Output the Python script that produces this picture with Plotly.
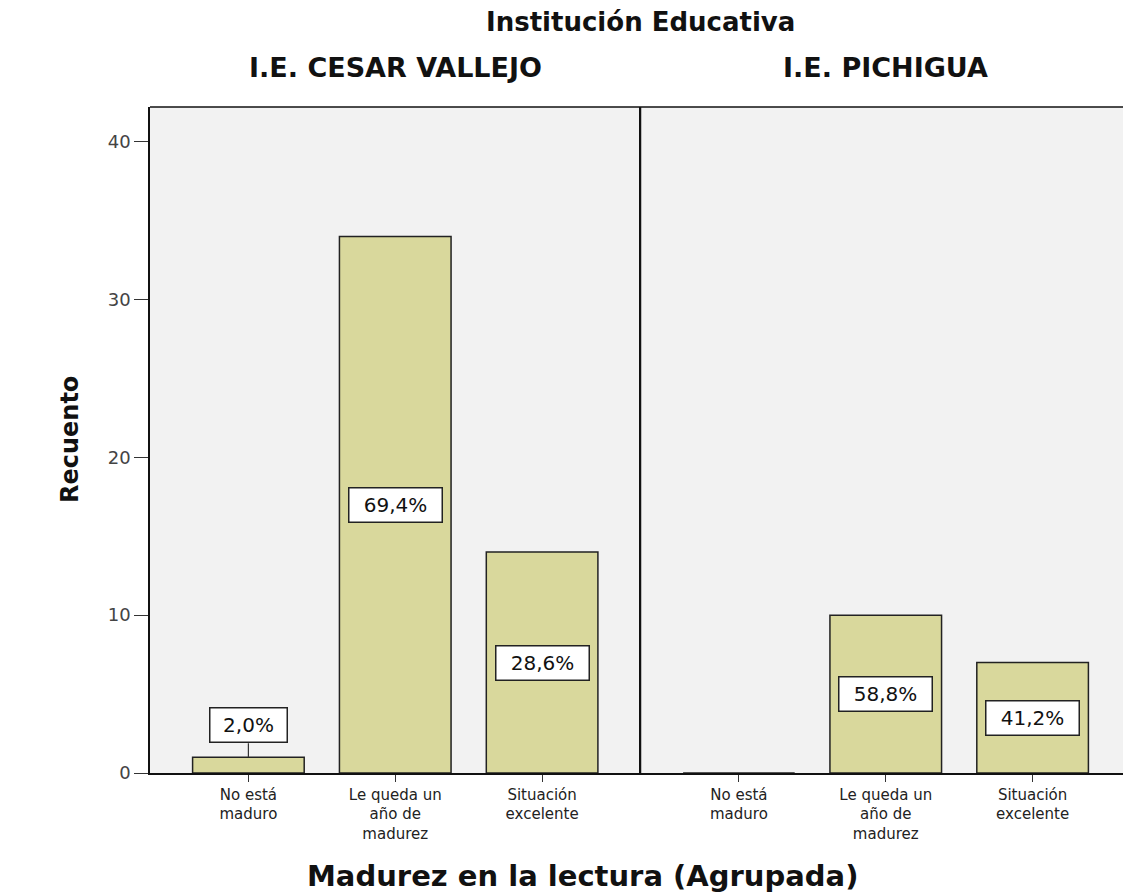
import plotly.graph_objects as go
from plotly.subplots import make_subplots

categories = ["No está<br>maduro", "Le queda un<br>año de<br>madurez", "Situación<br>excelente"]
panels = ["I.E. CESAR VALLEJO", "I.E. PICHIGUA"]
counts_cv = [1, 34, 14]
counts_pi = [0, 10, 7]
pct_cv = ["2,0%", "69,4%", "28,6%"]
pct_pi = [None, "58,8%", "41,2%"]
y_ticks = [0, 10, 20, 30, 40]

BAR = "#d9d89c"
BG = "#f2f2f2"
FONT = "DejaVu Sans, Verdana"

fig = make_subplots(rows=1, cols=2, shared_yaxes=True, horizontal_spacing=0)

xs = list(range(len(categories)))
for col, counts in ((1, counts_cv), (2, counts_pi)):
    fig.add_trace(go.Bar(x=xs, y=counts, width=0.76, marker=dict(color=BAR, line=dict(color="#222", width=1.5)),
                         showlegend=False, hoverinfo="skip"), row=1, col=col)

for col, counts, pcts in ((1, counts_cv, pct_cv), (2, counts_pi, pct_pi)):
    xref = "x" if col == 1 else "x2"
    for i, (c, p) in enumerate(zip(counts, pcts)):
        if p is None:
            continue
        common = dict(xref=xref, yref="y", text=p, font=dict(family=FONT, size=20, color="#111"),
                      bgcolor="white", bordercolor="#222", borderwidth=1.5, borderpad=2,
                      width=16 * len(p) + 8, height=29, align="center")
        if c < 3:
            fig.add_annotation(x=i, y=c, showarrow=True, arrowhead=0, arrowwidth=1.2, arrowcolor="#333",
                               ax=0, ay=-14, yanchor="bottom", **common)
        else:
            fig.add_annotation(x=i, y=c / 2, showarrow=False, **common)

axis_common = dict(tickmode="array", tickvals=xs, ticktext=categories, range=[-0.67, 2.67],
                   showline=True, linecolor="#111", linewidth=1.5, mirror=False, ticks="outside", ticklen=7,
                   tickcolor="#333", tickfont=dict(family=FONT, size=15, color="#222"),
                   showgrid=False, zeroline=False)
fig.update_xaxes(**axis_common)

fig.update_yaxes(range=[0, 42.2], tickvals=y_ticks, showline=True, linecolor="#111", linewidth=1.5,
                 ticks="outside", ticklen=14, tickcolor="#333", showgrid=False, zeroline=False,
                 tickfont=dict(family=FONT, size=18, color="#444"))
fig.update_yaxes(showline=True, ticks="", showticklabels=False, row=1, col=2)

# frame lines: top line, divider
fig.add_shape(type="line", xref="paper", yref="paper", x0=0, x1=1, y0=1, y1=1, line=dict(color="#111", width=1.5))
fig.add_shape(type="line", xref="paper", yref="paper", x0=0.5, x1=0.5, y0=0, y1=1, line=dict(color="#111", width=1.5))

fig.add_annotation(text="<b>Recuento</b>", xref="paper", yref="paper", x=-0.0815, y=0.5, textangle=-90,
                   xanchor="center", yanchor="middle",
                   showarrow=False, font=dict(family=FONT, size=24, color="#111"))
fig.add_annotation(text="<b>Institución Educativa</b>", xref="paper", yref="paper", x=0.5, y=1.1276,
                   xanchor="center", yanchor="middle", showarrow=False, font=dict(family=FONT, size=26, color="#111"))
for k, name in enumerate(panels):
    fig.add_annotation(text="<b>" + name + "</b>", xref="paper", yref="paper", x=0.25 + 0.5 * k, y=1.0586,
                       xanchor="center", yanchor="middle", showarrow=False,
                       font=dict(family=FONT, size=27, color="#111"))
fig.add_annotation(text="<b>Madurez en la lectura (Agrupada)</b>", xref="paper", yref="paper", x=0.441, y=-0.154,
                   xanchor="center", yanchor="middle", showarrow=False, font=dict(family=FONT, size=29, color="#111"))

fig.update_layout(width=1123, height=884, paper_bgcolor="white", plot_bgcolor=BG,
                  margin=dict(l=142, r=0, t=99, b=119, autoexpand=False), bargap=0.2)

fig.write_html("out.html")
